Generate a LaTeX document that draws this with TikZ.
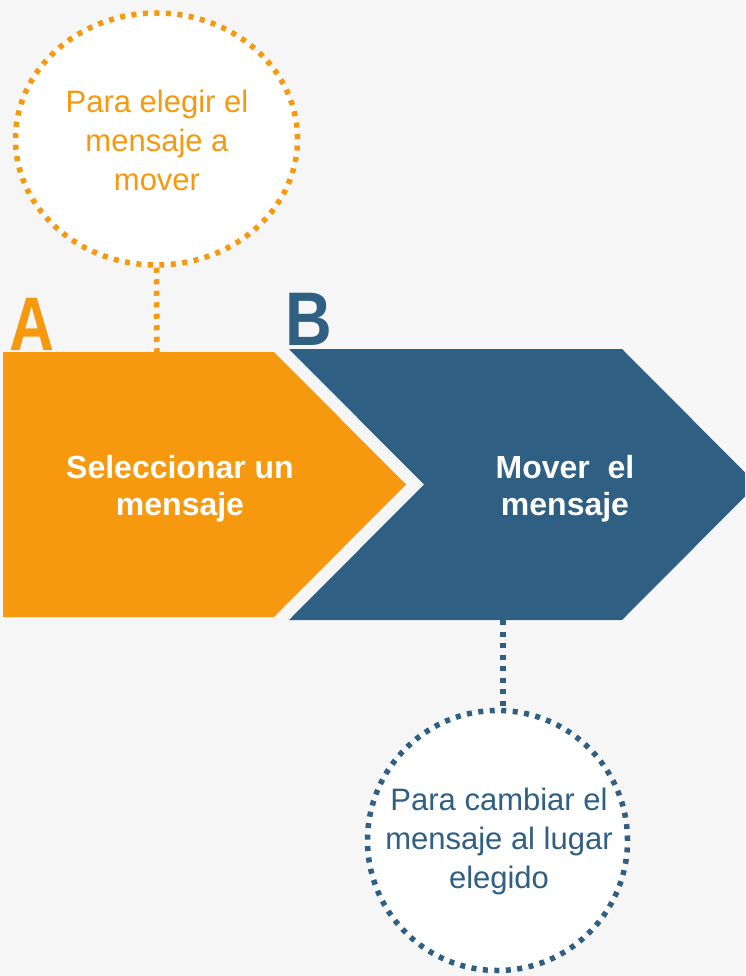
\documentclass[tikz,border=0pt]{standalone}
\usepackage{fontspec}
\setmainfont{Liberation Sans}
\usetikzlibrary{shapes.geometric}
\definecolor{naranja}{HTML}{F7990E}
\definecolor{azul}{HTML}{2F5F83}
\definecolor{fondo}{HTML}{F6F6F6}
\tikzset{
  punteado/.style={line width=5.5pt, dash pattern=on 5pt off 6.5pt},
  nota/.style={draw, ellipse, fill=white, punteado, inner sep=0pt},
  texto/.style={align=center, inner sep=0pt, font=\fontsize{31}{39}\selectfont},
  paso/.style={align=center, text=white, font=\fontsize{32}{37}\selectfont\bfseries},
  letra/.style={font=\fontsize{76}{76}\selectfont\bfseries, inner sep=0pt, anchor=base west}
}
\begin{document}
\begin{tikzpicture}[x=1pt,y=-1pt]
\useasboundingbox (0,0) rectangle (745,976);
\clip (0,0) rectangle (745,976);
\fill[fondo] (0,0) rectangle (745,976);

\fill[naranja] (3,352) -- (274,352) -- (406,484.5) -- (274,617) -- (3,617) -- cycle;
\fill[azul] (289,349) -- (622,349) -- (757,484.5) -- (622,620) -- (289,620) -- (424,484.5) -- cycle;
\coordinate (topeA) at (157,352);
\coordinate (baseB) at (503,620);

\node[paso] (pasoA) at (180,489) {Seleccionar un\\mensaje};
\node[paso] (pasoB) at (565,489) {Mover\ \ el\\mensaje};
\node[letra, text=naranja] (letraA) at (9,350) {\scalebox{0.82}[1]{A}};
\node[letra, text=azul] (letraB) at (285,345) {\scalebox{0.85}[1]{B}};

\node[nota, draw=naranja, minimum width=282, minimum height=252] (notaA) at (156.5,139) {};
\node[nota, draw=azul, minimum width=260, minimum height=260] (notaB) at (497.5,840.5) {};
\node[texto, text=naranja] (textoA) at (157,140) {Para elegir el\\mensaje a\\mover};
\node[texto, text=azul] (textoB) at (499,841) {Para cambiar el\\mensaje al lugar\\elegido};

\draw[punteado, naranja] (notaA.south) -- (topeA);
\draw[punteado, azul] (baseB) -- (baseB |- notaB.north);
\end{tikzpicture}
\end{document}
